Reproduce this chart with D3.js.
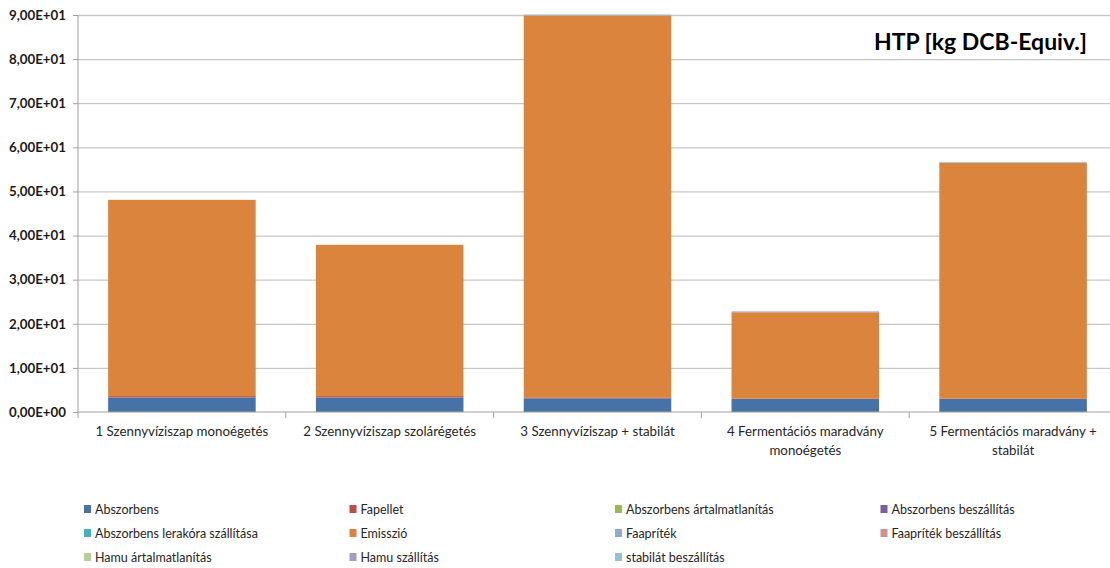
<!DOCTYPE html>
<html>
<head>
<meta charset="utf-8">
<script src="https://cdn.jsdelivr.net/npm/d3@7"></script>
<style>
  html, body { margin: 0; padding: 0; background: #fff; }
  svg { display: block; font-family: Lato, "Open Sans", sans-serif; }
</style>
</head>
<body>
<svg id="chart" width="1110" height="568"></svg>
<script>
// Scenarios (x categories)
const categories = [
  "1 Szennyvíziszap monoégetés",
  "2 Szennyvíziszap szolárégetés",
  "3 Szennyvíziszap + stabilát",
  "4 Fermentációs maradvány monoégetés",
  "5 Fermentációs maradvány + stabilát"
];

// Stack components, in stacking / legend order
const seriesNames = [
  "Abszorbens", "Fapellet", "Abszorbens ártalmatlanítás", "Abszorbens beszállítás",
  "Abszorbens lerakóra szállítása", "Emisszió", "Faapríték", "Faapríték beszállítás",
  "Hamu ártalmatlanítás", "Hamu szállítás", "stabilát beszállítás"
];
const seriesColors = [
  "#4672A7", "#BE4B48", "#98B954", "#7D5FA0",
  "#4AACC5", "#DB843D", "#93A9CF", "#D19392",
  "#B9CD96", "#A99BBD", "#92C3D4"
];

// HTP contribution per component, one value per scenario [kg DCB-Equiv.]
const abszorbens          = [3.3, 3.3, 3.1, 3.0, 3.0];
const fapellet            = [0.3, 0.3, 0.2, 0, 0];
const abszorbensArtalm    = [0, 0, 0, 0, 0];
const abszorbensBesz      = [0, 0, 0, 0, 0];
const abszorbensLerako    = [0, 0, 0, 0, 0];
const emisszio            = [44.5, 34.3, 86.6, 19.6, 53.5];
const faapritek           = [0, 0, 0, 0, 0];
const faapritekBesz       = [0, 0, 0, 0, 0];
const hamuArtalm          = [0, 0, 0, 0, 0];
const hamuSzall           = [0, 0, 0, 0.2, 0];
const stabilatBesz        = [0, 0, 0.2, 0, 0.2];

const seriesValues = [
  abszorbens, fapellet, abszorbensArtalm, abszorbensBesz, abszorbensLerako,
  emisszio, faapritek, faapritekBesz, hamuArtalm, hamuSzall, stabilatBesz
];

const yTicks = [0, 10, 20, 30, 40, 50, 60, 70, 80, 90];
const yTickLabels = ["0,00E+00", "1,00E+01", "2,00E+01", "3,00E+01", "4,00E+01",
                     "5,00E+01", "6,00E+01", "7,00E+01", "8,00E+01", "9,00E+01"];
const chartTitle = "HTP [kg DCB-Equiv.]";

// ---- layout ----
const svg = d3.select("#chart");
const plot = { left: 78, right: 1117, top: 15, bottom: 412 };

const x = d3.scaleBand()
  .domain(categories)
  .range([plot.left, plot.right])
  .paddingInner(0.29)
  .paddingOuter(0.145);

const y = d3.scaleLinear()
  .domain([0, 90])
  .range([plot.bottom, plot.top]);

// table rows for d3.stack
const rows = categories.map((c, i) => {
  const r = { category: c };
  seriesNames.forEach((s, k) => { r[s] = seriesValues[k][i]; });
  return r;
});
const stacked = d3.stack().keys(seriesNames)(rows);

// gridlines
const gridAxis = d3.axisLeft(y)
  .tickValues(yTicks.slice(1))
  .tickSize(-(1110 - plot.left))
  .tickFormat("");
svg.append("g")
  .attr("transform", `translate(${plot.left},0)`)
  .call(gridAxis)
  .call(g => g.select(".domain").remove())
  .call(g => g.selectAll("line").attr("stroke", "#c8c8c8").attr("stroke-width", 1.3));

// y axis with labels
const yAxis = d3.axisLeft(y)
  .tickValues(yTicks)
  .tickSize(5)
  .tickPadding(7)
  .tickFormat((d, i) => yTickLabels[i]);
svg.append("g")
  .attr("transform", `translate(${plot.left},0)`)
  .call(yAxis)
  .call(g => g.select(".domain").attr("stroke", "#a0a0a0").attr("d", `M0,${plot.bottom}V${plot.top}`))
  .call(g => g.selectAll("line").attr("stroke", "#a0a0a0"))
  .call(g => g.selectAll("text")
    .attr("fill", "#1a1a1a")
    .style("font-size", "13.3px")
    .style("font-weight", "bold")
    .style("font-family", "Lato, sans-serif"));

// bars
svg.append("g")
  .selectAll("g")
  .data(stacked)
  .join("g")
  .attr("fill", (d, i) => seriesColors[i])
  .selectAll("rect")
  .data(d => d.map(v => ({ v, cat: v.data.category })))
  .join("rect")
  .attr("x", d => x(d.cat))
  .attr("width", x.bandwidth())
  .attr("y", d => y(d.v[1]))
  .attr("height", d => Math.max(0, y(d.v[0]) - y(d.v[1])));

// x axis
const xAxis = d3.axisBottom(x).tickSize(0).tickFormat("");
svg.append("g")
  .attr("transform", `translate(0,${plot.bottom})`)
  .call(xAxis)
  .call(g => g.select(".domain").attr("stroke", "#a0a0a0").attr("d", `M${plot.left},0H1110`));

// category boundary tick marks
const step = x.step();
const boundaries = d3.range(categories.length + 1).map(i => plot.left + i * step);
svg.append("g")
  .selectAll("line")
  .data(boundaries)
  .join("line")
  .attr("x1", d => d).attr("x2", d => d)
  .attr("y1", plot.bottom).attr("y2", plot.bottom + 6)
  .attr("stroke", "#a0a0a0");

// category labels, wrapped to the band width
const labelG = svg.append("g");
categories.forEach(c => {
  const cx = x(c) + x.bandwidth() / 2;
  const t = labelG.append("text")
    .attr("x", cx)
    .attr("y", plot.bottom + 24)
    .attr("text-anchor", "middle")
    .attr("fill", "#262626")
    .style("font-size", "13.3px");
  const words = c.split(" ");
  let line = [];
  let tspan = t.append("tspan").attr("x", cx).attr("dy", 0);
  words.forEach(w => {
    line.push(w);
    tspan.text(line.join(" "));
    if (tspan.node().getComputedTextLength() > 190 && line.length > 1) {
      line.pop();
      tspan.text(line.join(" "));
      line = [w];
      tspan = t.append("tspan").attr("x", cx).attr("dy", 19).text(w);
    }
  });
});

// title
svg.append("text")
  .attr("x", 1087)
  .attr("y", 50)
  .attr("text-anchor", "end")
  .attr("fill", "#000")
  .style("font-size", "23px")
  .style("font-weight", "bold")
  .text(chartTitle);

// legend: 4 columns, 3 rows
const legend = svg.append("g");
seriesNames.forEach((s, i) => {
  const col = i % 4, row = Math.floor(i / 4);
  const lx = 84 + col * 265.5, ly = 509 + row * 24;
  legend.append("rect")
    .attr("x", lx).attr("y", ly - 4)
    .attr("width", 7).attr("height", 8)
    .attr("fill", seriesColors[i]);
  legend.append("text")
    .attr("x", lx + 11).attr("y", ly + 4.5)
    .attr("fill", "#262626")
    .style("font-size", "12.5px")
    .text(s);
});
</script>
</body>
</html>
